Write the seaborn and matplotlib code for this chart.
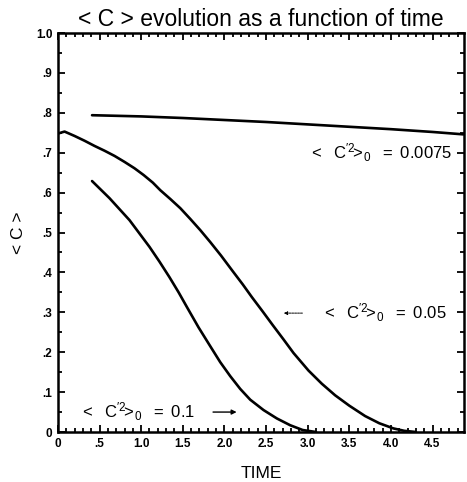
import matplotlib
matplotlib.use("Agg")
import matplotlib.pyplot as plt
import seaborn as sns
import pandas as pd
from matplotlib.ticker import MultipleLocator, FixedLocator, FixedFormatter

sns.set_style("ticks")
plt.rcParams['font.family'] = ['Liberation Sans', 'DejaVu Sans']
plt.rcParams['mathtext.fontset'] = 'custom'
plt.rcParams['mathtext.rm'] = 'Liberation Sans'
plt.rcParams['mathtext.it'] = 'Liberation Sans'
plt.rcParams['mathtext.bf'] = 'Liberation Sans:bold'
plt.rcParams['text.color'] = 'black'
plt.rcParams['axes.labelcolor'] = 'black'
plt.rcParams['xtick.color'] = 'black'
plt.rcParams['ytick.color'] = 'black'

# Curve <C'2>0 = 0.0075
t_a = [0.41, 1.0, 1.5, 2.0, 2.5, 3.0, 3.5, 4.0, 4.5, 4.87]
c_a = [0.794, 0.791, 0.787, 0.782, 0.777, 0.771, 0.765, 0.759, 0.752, 0.746]
# Curve <C'2>0 = 0.05
t_b = [0.0, 0.08, 0.20, 0.32, 0.44, 0.56, 0.68, 0.80, 0.92, 1.03, 1.14, 1.23, 1.35, 1.47, 1.59, 1.71, 1.83, 1.96,
       2.10, 2.22, 2.33, 2.46, 2.58, 2.71, 2.83, 3.01, 3.17, 3.33, 3.50, 3.69, 3.86, 4.03, 4.16, 4.30]
c_b = [0.748, 0.753, 0.742, 0.730, 0.717, 0.705, 0.692, 0.677, 0.661, 0.644, 0.625, 0.606, 0.584, 0.561, 0.534, 0.506, 0.476, 0.442,
       0.403, 0.370, 0.338, 0.302, 0.268, 0.232, 0.198, 0.154, 0.121, 0.092, 0.066, 0.040, 0.022, 0.009, 0.003, 0.0]
# Curve <C'2>0 = 0.1
t_c = [0.41, 0.62, 0.86, 1.10, 1.22, 1.34, 1.45, 1.55, 1.69, 1.83, 1.95, 2.07, 2.19, 2.31, 2.47, 2.63, 2.79, 2.94, 3.10]
c_c = [0.629, 0.586, 0.531, 0.464, 0.427, 0.388, 0.350, 0.313, 0.262, 0.215, 0.175, 0.140, 0.108, 0.081, 0.055, 0.034, 0.017, 0.005, 0.0]

series_labels = [r"$<\ \ \mathrm{C}^{\prime 2}\!\!>_{\!0}\ \ =\ 0.0075$",
                 r"$<\ \ \mathrm{C}^{\prime 2}\!\!>_{\!0}\ \ =\ 0.05$",
                 r"$<\ \ \mathrm{C}^{\prime 2}\!\!>_{\!0}\ \ =\ 0.1$"]
x_ticks = [0, 0.5, 1.0, 1.5, 2.0, 2.5, 3.0, 3.5, 4.0, 4.5]
x_ticklabels = ["0", ".5", "1.0", "1.5", "2.0", "2.5", "3.0", "3.5", "4.0", "4.5"]
y_ticks = [0, 0.1, 0.2, 0.3, 0.4, 0.5, 0.6, 0.7, 0.8, 0.9, 1.0]
y_ticklabels = ["0", ".1", ".2", ".3", ".4", ".5", ".6", ".7", ".8", ".9", "1.0"]

fig = plt.figure(figsize=(4.67, 4.82), dpi=100)
ax = fig.add_axes([0.124, 0.1037, 0.870, 0.8278])

for t, c in [(t_a, c_a), (t_b, c_b), (t_c, c_c)]:
    df = pd.DataFrame({"t": t, "c": c})
    sns.lineplot(data=df, x="t", y="c", ax=ax, color="black", linewidth=1.9)

ax.set_xlim(0, 4.88)
ax.set_ylim(0, 1.0)

ax.xaxis.set_major_locator(FixedLocator(x_ticks))
ax.xaxis.set_major_formatter(FixedFormatter(x_ticklabels))
ax.yaxis.set_major_locator(FixedLocator(y_ticks))
ax.yaxis.set_major_formatter(FixedFormatter(y_ticklabels))
ax.xaxis.set_minor_locator(MultipleLocator(0.1))
ax.yaxis.set_minor_locator(MultipleLocator(0.05))
ax.tick_params(which="both", direction="in", top=True, right=True, width=1.3, colors="black")
ax.tick_params(which="major", length=5, labelsize=8.5, pad=4)
ax.tick_params(which="minor", length=3)
for lab in ax.get_xticklabels() + ax.get_yticklabels():
    lab.set_fontweight("bold")
for sp in ax.spines.values():
    sp.set_linewidth(1.8)
    sp.set_color("black")

ax.set_xlabel("TIME", fontsize=12.5, labelpad=12, color="black")
ax.set_ylabel("< C >", fontsize=12.5, labelpad=7, color="black")
ax.set_title("< C > evolution as a function of time", fontsize=16.5, pad=5, color="black")

ax.text(4.74, 0.70, series_labels[0], fontsize=12, ha="right", va="center", color="black")
ax.text(3.17, 0.298, series_labels[1], fontsize=12, ha="left", va="center", color="black")
ax.annotate("", xy=(2.68, 0.298), xytext=(2.97, 0.298),
            arrowprops=dict(arrowstyle="-|>", color="black", lw=0.7, linestyle=(0, (2, 1)), mutation_scale=5))
ax.text(0.27, 0.05, series_labels[2], fontsize=12, ha="left", va="center", color="black")
ax.annotate("", xy=(2.18, 0.05), xytext=(1.83, 0.05),
            arrowprops=dict(arrowstyle="-|>", color="black", lw=1.0, mutation_scale=7))

ax.set_facecolor("white")
fig.patch.set_facecolor("white")
fig.savefig("out.png", dpi=100)
